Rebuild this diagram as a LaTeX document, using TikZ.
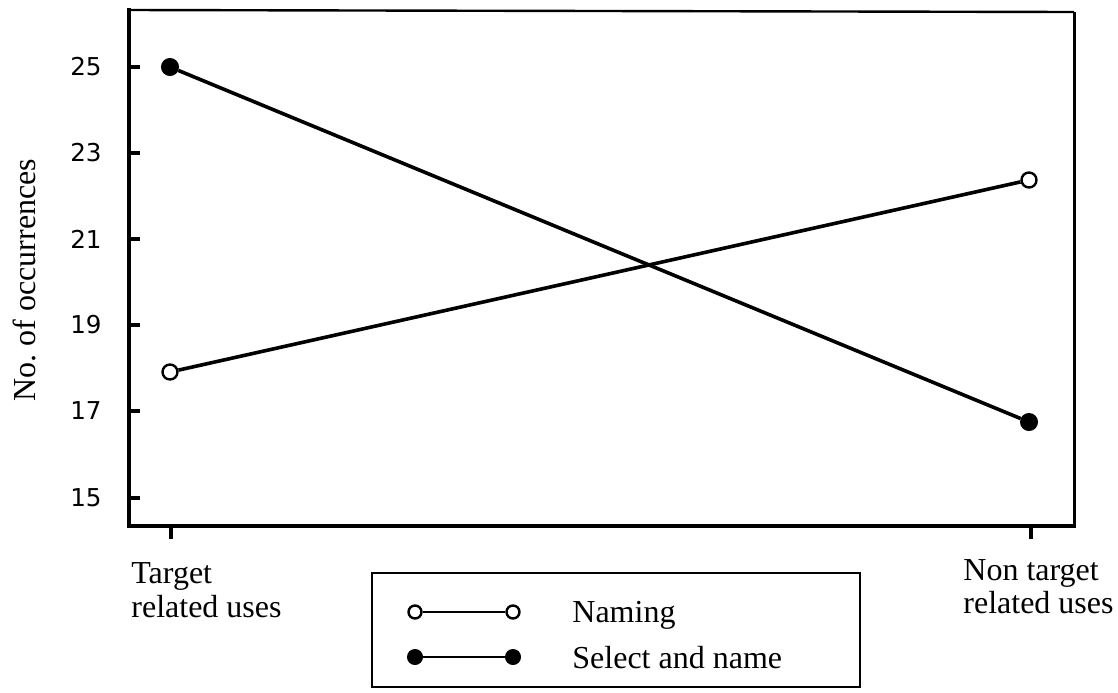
\documentclass[tikz,border=0pt]{standalone}
\usepackage{fontspec}
\setmainfont{Liberation Serif}
\newfontfamily\tickfont{DejaVu Sans}
\begin{document}
\begin{tikzpicture}[x=0.5pt,y=-0.5pt,
  opendot/.style={circle,draw=black,fill=white,line width=1.2pt,inner sep=0pt,minimum size=7.5pt},
  filldot/.style={circle,draw=black,fill=black,line width=0.5pt,inner sep=0pt,minimum size=8.5pt},
  dataline/.style={line width=1.8pt},
  ticklab/.style={anchor=east,font=\tickfont\fontsize{12.3}{14}\selectfont,inner sep=0pt},
  txt/.style={font=\fontsize{16}{19}\selectfont,inner sep=0pt},
  axisline/.style={line width=2pt,line cap=rect},
  tickline/.style={line width=1.6pt}]
\useasboundingbox (0,0) rectangle (1118,692);
% frame
\coordinate (tl) at (129,10);
\coordinate (tr) at (1074,12);
\coordinate (bl) at (129,526);
\coordinate (br) at (1074,526);
\draw[line width=1.2pt] (tl) -- (tr);
\draw[line width=1.5pt] (tr) -- (br);
\draw[axisline] (tl) -- (bl) -- (br);
% y ticks
\foreach \v/\yy in {25/67,23/153,21/239,19/325,17/411,15/498}{
  \draw[tickline] (129,\yy) -- (140,\yy);
  \node[ticklab] (t\v) at (102,\yy) {\v};
}
% x ticks
\draw[tickline] (171,526) -- (171,539);
\draw[tickline] (1031,526) -- (1031,539);
% axis labels
\node[txt,rotate=90] (ylab) at (24,280) {No.\ of occurrences};
\node[txt,anchor=base west] (xl1) at (131,583) {Target};
\node[txt,anchor=base west] (xl2) at (131,617) {related uses};
\node[txt,anchor=base west] (xr1) at (963,580) {Non target};
\node[txt,anchor=base west] (xr2) at (963,613) {related uses};
% data
\node[filldot] (s1) at (170,67) {};
\node[filldot] (s2) at (1029,422) {};
\node[opendot] (n1) at (170,372) {};
\node[opendot] (n2) at (1029,180) {};
\draw[dataline] (s1) -- (s2);
\draw[dataline] (n1) -- (n2);
% legend
\node[draw,line width=1pt,minimum width=244pt,minimum height=57pt,inner sep=0pt] (leg) at (616,630) {};
\node[opendot,minimum size=6.5pt] (ln1) at (415,612) {};
\node[opendot,minimum size=6.5pt] (ln2) at (513,612) {};
\draw[line width=1pt] (ln1) -- (ln2);
\node[filldot,minimum size=7.5pt] (ls1) at (415,657) {};
\node[filldot,minimum size=7.5pt] (ls2) at (513,657) {};
\draw[line width=1pt] (ls1) -- (ls2);
\node[txt,anchor=base west] (lt1) at (572,622) {Naming};
\node[txt,anchor=base west] (lt2) at (572,668) {Select and name};
\end{tikzpicture}
\end{document}
